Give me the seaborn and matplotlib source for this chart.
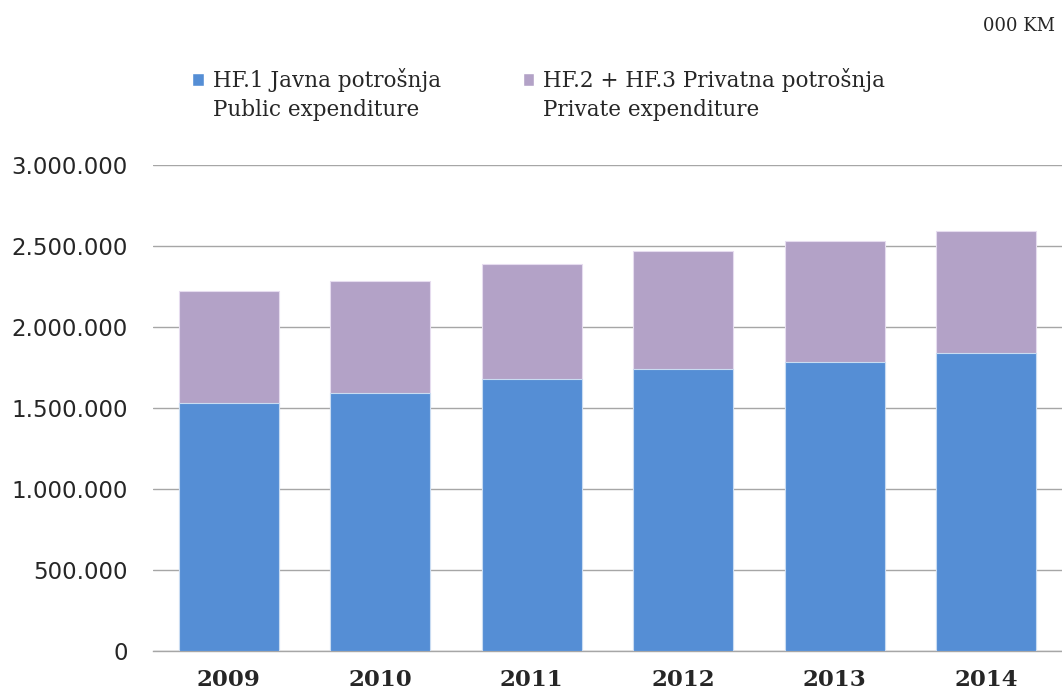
import pandas as pd
import numpy as np
import seaborn as sns
import matplotlib.pyplot as plt
from matplotlib.patches import Patch
from matplotlib.ticker import FuncFormatter, MultipleLocator

sns.set_style("white")

# data (000 KM)
years = ["2009", "2010", "2011", "2012", "2013", "2014"]
public = [1530000, 1592000, 1679000, 1741000, 1784000, 1840000]
private = [692000, 692000, 710000, 728000, 747000, 753000]

label_public = ["HF.1 Javna potrošnja", "Public expenditure"]
label_private = ["HF.2 + HF.3 Privatna potrošnja", "Private expenditure"]
col_public = "#558ed5"
col_private = "#b3a2c7"

df = pd.DataFrame({"year": years, "public": public, "private": private})
df["total"] = df["public"] + df["private"]

fig = plt.figure(figsize=(10.62, 6.93), dpi=100)
ax = fig.add_axes([0.144, 0.0606, 0.856, 0.7014])

sns.barplot(data=df, x="year", y="total", color=col_private, width=0.66,
            edgecolor="#e6dcef", linewidth=0.8, saturation=1, ax=ax, zorder=3)
sns.barplot(data=df, x="year", y="public", color=col_public, width=0.66,
            edgecolor="#c9dcf2", linewidth=0.8, saturation=1, ax=ax, zorder=3)

ax.set_ylim(0, 3000000)
ax.set_xlim(-0.5, 5.5)
ax.yaxis.set_major_locator(MultipleLocator(500000))
ax.yaxis.set_major_formatter(FuncFormatter(lambda v, p: f"{int(v):,}".replace(",", ".")))
ax.grid(axis="y", color="#a6a6a6", linewidth=1.0, zorder=0)
ax.set_xlabel("")
ax.set_ylabel("")

for s in ["top", "right", "left"]:
	ax.spines[s].set_visible(False)
ax.spines["bottom"].set_color("#a6a6a6")
ax.spines["bottom"].set_linewidth(1.0)

ax.tick_params(axis="y", length=0, pad=18, labelsize=16.5, labelcolor="#262626")
ax.tick_params(axis="x", which="major", length=0, pad=13)
ax.set_xticks(np.arange(-0.5, 6, 1), minor=True)
ax.tick_params(axis="x", which="minor", length=6, color="#a6a6a6", width=1.0, direction="out")
for t in ax.get_xticklabels():
	t.set_fontfamily("DejaVu Serif")
	t.set_fontweight("bold")
	t.set_fontsize(16.5)
for t in ax.get_yticklabels():
	t.set_fontfamily("DejaVu Sans")

# legend: first line via legend, second line as plain text under it
handles = [Patch(facecolor=col_public, label=label_public[0]),
           Patch(facecolor=col_private, label=label_private[0])]
leg = fig.legend(handles=handles, loc="upper left", bbox_to_anchor=(0.181, 0.902), ncol=2,
                 frameon=False, handlelength=0.55, handleheight=0.55, handletextpad=0.4,
                 columnspacing=3.8, borderaxespad=0, borderpad=0,
                 prop={"family": "DejaVu Serif", "size": 15.5})
fig.canvas.draw()
inv = fig.transFigure.inverted()
for t, second in zip(leg.get_texts(), [label_public[1], label_private[1]]):
	bb = t.get_window_extent()
	x0, y0 = inv.transform((bb.x0, bb.y0))
	fig.text(x0, y0 - 0.042, second, ha="left", va="bottom",
	         family="DejaVu Serif", fontsize=15.5, color="#262626")
for t in leg.get_texts():
	t.set_color("#262626")

fig.text(0.993, 0.962, "000 KM", ha="right", va="center", family="DejaVu Serif", fontsize=13)

fig.savefig("out.png", dpi=100)
